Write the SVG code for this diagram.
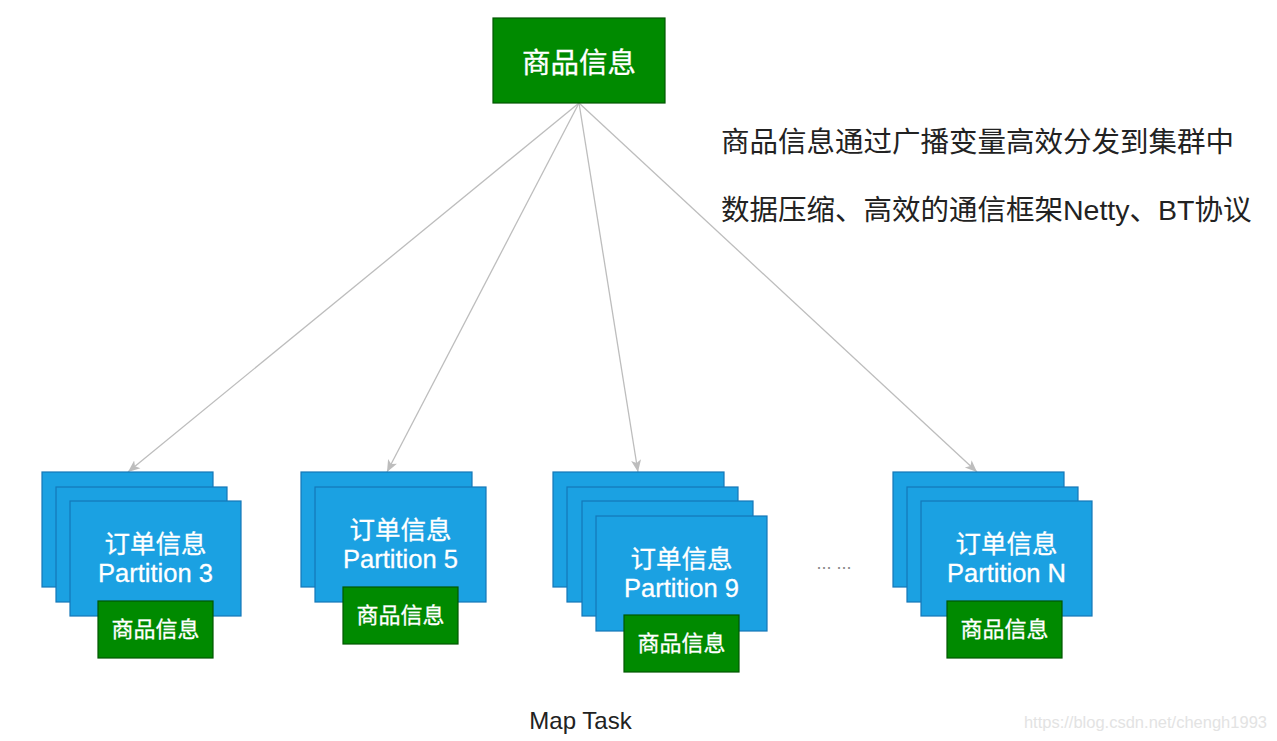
<svg xmlns="http://www.w3.org/2000/svg" width="1277" height="741" viewBox="0 0 1277 741">
<defs>
<style>
.card{fill:#1ba1e2;stroke:#1577b8;stroke-width:1.2}
.gbox{fill:#008a00;stroke:#005700;stroke-width:1.2}
.wt{fill:#ffffff;stroke:#ffffff;stroke-width:0.3;font-family:"Liberation Sans","Noto Sans CJK SC",sans-serif;text-anchor:middle}
.conn{stroke:#bdbdbd;stroke-width:1.3;fill:none;marker-end:url(#arr)}
.note{fill:#222;font-family:"Liberation Sans","Noto Sans CJK SC",sans-serif;font-size:28.5px}
</style>
<marker id="arr" markerUnits="userSpaceOnUse" markerWidth="14" markerHeight="12" refX="12" refY="5" orient="auto" viewBox="0 0 14 10">
<path d="M0,0 L12,5 L0,10 L3,5 z" fill="#bdbdbd"/>
</marker>
</defs>
<rect width="1277" height="741" fill="#ffffff"/>

<g id="connectors">
<line class="conn" x1="579" y1="103" x2="128" y2="472"/>
<line class="conn" x1="579" y1="103" x2="387" y2="472"/>
<line class="conn" x1="579" y1="103" x2="638" y2="472"/>
<line class="conn" x1="579" y1="103" x2="977" y2="472"/>
</g>

<g id="top-node">
<rect class="gbox" x="493" y="18" width="172" height="85"/>
<text class="wt" x="579" y="73" font-size="28.5">商品信息</text>
</g>

<g id="notes">
<text class="note" x="721" y="152">商品信息通过广播变量高效分发到集群中</text>
<text class="note" x="721" y="220">数据压缩、高效的通信框架Netty、BT协议</text>
</g>

<g id="group-p3">
<rect class="card" x="42" y="472" width="171" height="115"/>
<rect class="card" x="56" y="487" width="171" height="115"/>
<rect class="card" x="70" y="501" width="171" height="115"/>
<text class="wt" x="155.5" y="553" font-size="25.5">订单信息</text>
<text class="wt" x="155.5" y="582" font-size="25.5">Partition 3</text>
<rect class="gbox" x="98" y="601" width="115" height="57"/>
<text class="wt" x="155.5" y="637" font-size="22">商品信息</text>
</g>

<g id="group-p5">
<rect class="card" x="301" y="472" width="171" height="115"/>
<rect class="card" x="315" y="487" width="171" height="115"/>
<text class="wt" x="400.5" y="539" font-size="25.5">订单信息</text>
<text class="wt" x="400.5" y="568" font-size="25.5">Partition 5</text>
<rect class="gbox" x="343" y="587" width="115" height="57"/>
<text class="wt" x="400.5" y="623" font-size="22">商品信息</text>
</g>

<g id="group-p9">
<rect class="card" x="553" y="472" width="171" height="115"/>
<rect class="card" x="567" y="487" width="171" height="115"/>
<rect class="card" x="582" y="501" width="171" height="115"/>
<rect class="card" x="596" y="516" width="171" height="115"/>
<text class="wt" x="681.5" y="568" font-size="25.5">订单信息</text>
<text class="wt" x="681.5" y="597" font-size="25.5">Partition 9</text>
<rect class="gbox" x="624" y="615" width="115" height="57"/>
<text class="wt" x="681.5" y="651" font-size="22">商品信息</text>
</g>

<g id="ellipsis">
<text x="834" y="569" font-family="'Liberation Sans',sans-serif" font-size="18" fill="#8a8a8a" text-anchor="middle">... ...</text>
</g>

<g id="group-pN">
<rect class="card" x="893" y="472" width="171" height="115"/>
<rect class="card" x="907" y="487" width="171" height="115"/>
<rect class="card" x="921" y="501" width="171" height="115"/>
<text class="wt" x="1006.5" y="553" font-size="25.5">订单信息</text>
<text class="wt" x="1006.5" y="582" font-size="25.5">Partition N</text>
<rect class="gbox" x="947" y="601" width="115" height="57"/>
<text class="wt" x="1004.5" y="637" font-size="22">商品信息</text>
</g>

<g id="labels">
<text x="580.5" y="729" font-family="'Liberation Sans',sans-serif" font-size="24" fill="#222" text-anchor="middle">Map Task</text>
<text x="1267" y="728" font-family="'Liberation Sans',sans-serif" font-size="16.5" fill="#e3e3e3" text-anchor="end">https://blog.csdn.net/chengh1993</text>
</g>
</svg>
